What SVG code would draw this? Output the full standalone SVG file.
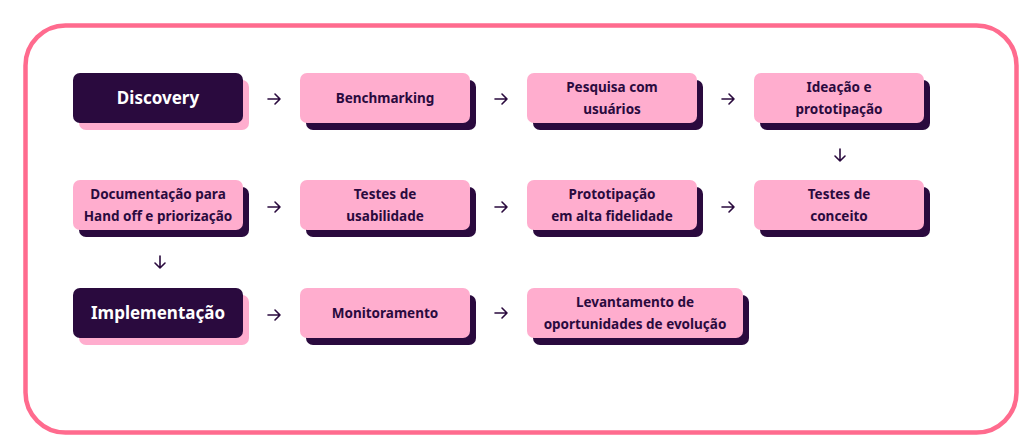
<svg xmlns="http://www.w3.org/2000/svg" width="1024" height="440" viewBox="0 0 1024 440">
<defs>
<style>
.frame{fill:#fff;stroke:#FF6B8E;stroke-width:4.5}
.pk{fill:#FFADCE}
.dk{fill:#2A0A3E}
.t{font-family:"Noto Sans","Open Sans",sans-serif;font-weight:700;font-size:13.5px;fill:#2A0A3E;text-anchor:middle}
.tw{font-family:"Noto Sans","Open Sans",sans-serif;font-weight:700;font-size:17px;fill:#FFFFFF;text-anchor:middle}
.ar{fill:none;stroke:#2A0A3E;stroke-width:1.6;stroke-linecap:round;stroke-linejoin:round}
</style>
</defs>
<rect width="1024" height="440" fill="#fff"/>
<rect class="frame" x="25.5" y="25.5" width="991" height="407" rx="40"/>

<g id="discovery"><rect class="pk" x="79" y="80" width="170" height="50" rx="7"/><rect class="dk" x="73" y="73" width="170" height="50" rx="7"/><text class="tw" x="158" y="104">Discovery</text></g>
<g id="benchmarking"><rect class="dk" x="306" y="80" width="170" height="50" rx="7"/><rect class="pk" x="300" y="73" width="170" height="50" rx="7"/><text class="t" x="385" y="103">Benchmarking</text></g>
<g id="pesquisa"><rect class="dk" x="533" y="80" width="170" height="50" rx="7"/><rect class="pk" x="527" y="73" width="170" height="50" rx="7"/><text class="t" x="612" y="92">Pesquisa com</text><text class="t" x="612" y="114">usuários</text></g>
<g id="ideacao"><rect class="dk" x="760" y="80" width="170" height="50" rx="7"/><rect class="pk" x="754" y="73" width="170" height="50" rx="7"/><text class="t" x="839" y="92">Ideação e</text><text class="t" x="839" y="114">prototipação</text></g>

<g id="documentacao"><rect class="dk" x="79" y="187" width="170" height="50" rx="7"/><rect class="pk" x="73" y="180" width="170" height="50" rx="7"/><text class="t" x="158" y="199">Documentação para</text><text class="t" x="158" y="221">Hand off e priorização</text></g>
<g id="usabilidade"><rect class="dk" x="306" y="187" width="170" height="50" rx="7"/><rect class="pk" x="300" y="180" width="170" height="50" rx="7"/><text class="t" x="385" y="199">Testes de</text><text class="t" x="385" y="221">usabilidade</text></g>
<g id="alta-fidelidade"><rect class="dk" x="533" y="187" width="170" height="50" rx="7"/><rect class="pk" x="527" y="180" width="170" height="50" rx="7"/><text class="t" x="612" y="199">Prototipação</text><text class="t" x="612" y="221">em alta fidelidade</text></g>
<g id="conceito"><rect class="dk" x="760" y="187" width="170" height="50" rx="7"/><rect class="pk" x="754" y="180" width="170" height="50" rx="7"/><text class="t" x="839" y="199">Testes de</text><text class="t" x="839" y="221">conceito</text></g>

<g id="implementacao"><rect class="pk" x="79" y="295" width="170" height="50" rx="7"/><rect class="dk" x="73" y="288" width="170" height="50" rx="7"/><text class="tw" x="158" y="319">Implementação</text></g>
<g id="monitoramento"><rect class="dk" x="306" y="295" width="170" height="50" rx="7"/><rect class="pk" x="300" y="288" width="170" height="50" rx="7"/><text class="t" x="385" y="318">Monitoramento</text></g>
<g id="levantamento"><rect class="dk" x="533" y="295" width="216" height="50" rx="7"/><rect class="pk" x="527" y="288" width="216" height="50" rx="7"/><text class="t" x="635" y="307">Levantamento de</text><text class="t" x="635" y="329">oportunidades de evolução</text></g>

<g id="connectors">
<path class="ar" d="M268 99H280M275 94L280 99L275 104"/>
<path class="ar" d="M495 99H507M502 94L507 99L502 104"/>
<path class="ar" d="M722 99H734M729 94L734 99L729 104"/>
<path class="ar" d="M840 149V161M835 156L840 161L845 156"/>
<path class="ar" d="M268 207H280M275 202L280 207L275 212"/>
<path class="ar" d="M495 207H507M502 202L507 207L502 212"/>
<path class="ar" d="M722 207H734M729 202L734 207L729 212"/>
<path class="ar" d="M160 256V268M155 263L160 268L165 263"/>
<path class="ar" d="M268 315H280M275 310L280 315L275 320"/>
<path class="ar" d="M495 313H507M502 308L507 313L502 318"/>
</g>
</svg>
